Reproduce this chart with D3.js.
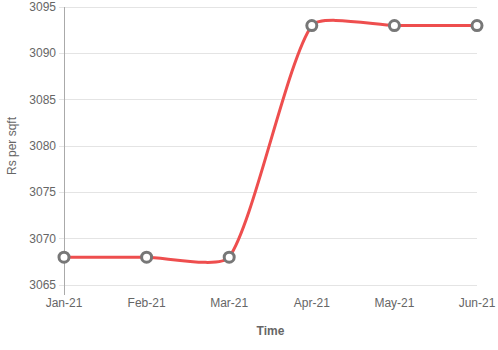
<!DOCTYPE html>
<html>
<head>
<meta charset="utf-8">
<script src="https://cdn.jsdelivr.net/npm/d3@7"></script>
<style>
  body { margin: 0; background: #fff; }
  text { font-family: "Liberation Sans", Arial, sans-serif; fill: #666; }
</style>
</head>
<body>
<svg width="498" height="350"></svg>
<script>
var months = ["Jan-21", "Feb-21", "Mar-21", "Apr-21", "May-21", "Jun-21"];
var prices = [3068, 3068, 3068, 3093, 3093, 3093];
var yTicks = [3065, 3070, 3075, 3080, 3085, 3090, 3095];

var svg = d3.select("svg");
var plotLeft = 64, plotRight = 477, plotTop = 7, plotBottom = 285;

var x = d3.scalePoint().domain(months).range([plotLeft, plotRight]);
var y = d3.scaleLinear().domain([3065, 3095]).range([plotBottom, plotTop]);

// horizontal grid
svg.append("g").selectAll("line")
    .data(yTicks)
    .enter().append("line")
    .attr("x1", plotLeft - 5).attr("x2", plotRight)
    .attr("y1", d => y(d)).attr("y2", d => y(d))
    .attr("stroke", "#e4e4e4").attr("stroke-width", 1)
    .attr("shape-rendering", "crispEdges");

svg.append("line")
    .attr("x1", plotLeft).attr("x2", plotLeft)
    .attr("y1", plotTop).attr("y2", plotBottom + 10)
    .attr("stroke", "#aaa").attr("shape-rendering", "crispEdges");

svg.append("g").selectAll("text")
    .data(yTicks)
    .enter().append("text")
    .attr("x", plotLeft - 8).attr("y", d => y(d) + 4)
    .attr("text-anchor", "end").attr("font-size", 12)
    .text(d => d);

svg.append("g").selectAll("text")
    .data(months)
    .enter().append("text")
    .attr("x", d => x(d)).attr("y", plotBottom + 22)
    .attr("text-anchor", "middle").attr("font-size", 12)
    .text(d => d);

svg.append("text")
    .attr("x", (plotLeft + plotRight) / 2).attr("y", 335)
    .attr("text-anchor", "middle").attr("font-size", 12)
    .attr("font-weight", "bold")
    .text("Time");

svg.append("text")
    .attr("transform", "translate(16," + ((plotTop + plotBottom) / 2) + ") rotate(-90)")
    .attr("text-anchor", "middle").attr("font-size", 12)
    .text("Rs per sqft");

// smoothed bezier through the points
var pts = months.map((m, i) => [x(m), y(prices[i])]);
function splinePath(p, t) {
  var cps = p.map(function(cur, i) {
    var prev = p[Math.max(i - 1, 0)], next = p[Math.min(i + 1, p.length - 1)];
    var d01 = Math.hypot(cur[0] - prev[0], cur[1] - prev[1]);
    var d12 = Math.hypot(next[0] - cur[0], next[1] - cur[1]);
    var s01 = d01 / (d01 + d12) || 0, s12 = d12 / (d01 + d12) || 0;
    var fa = t * s01, fb = t * s12;
    return {
      prev: [cur[0] - fa * (next[0] - prev[0]), cur[1] - fa * (next[1] - prev[1])],
      next: [cur[0] + fb * (next[0] - prev[0]), cur[1] + fb * (next[1] - prev[1])]
    };
  });
  var path = d3.path();
  path.moveTo(p[0][0], p[0][1]);
  for (var i = 1; i < p.length; i++) {
    var a = cps[i - 1].next, b = cps[i].prev;
    path.bezierCurveTo(a[0], a[1], b[0], b[1], p[i][0], p[i][1]);
  }
  return path.toString();
}

svg.append("path")
    .attr("d", splinePath(pts, 0.2))
    .attr("fill", "none")
    .attr("stroke", "#ee4e4e")
    .attr("stroke-width", 3);

svg.append("g").selectAll("circle")
    .data(prices)
    .enter().append("circle")
    .attr("cx", (d, i) => x(months[i]))
    .attr("cy", d => y(d))
    .attr("r", 5)
    .attr("fill", "#fff")
    .attr("stroke", "#777")
    .attr("stroke-width", 3);
</script>
</body>
</html>
